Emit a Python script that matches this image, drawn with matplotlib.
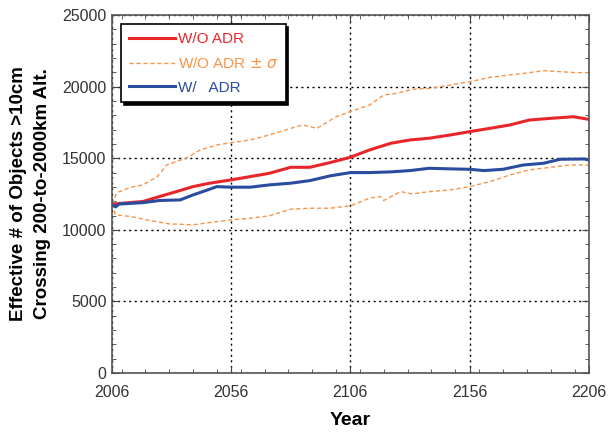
import numpy as np
import matplotlib
matplotlib.use("Agg")
import matplotlib.pyplot as plt
from matplotlib.ticker import MultipleLocator

plt.rcParams['font.family'] = ['Liberation Sans', 'DejaVu Sans']

# W/O ADR (mean)
red_years = [2006, 2019, 2026, 2033, 2040, 2047, 2056, 2064, 2072, 2081, 2089, 2097.5,
             2106, 2114, 2123, 2131, 2139, 2148, 2156, 2164.5, 2173, 2181, 2190, 2199.5, 2206]
red_vals = [11800, 11980, 12330, 12670, 13020, 13260, 13490, 13720, 13950, 14370, 14370, 14700,
            15070, 15580, 16050, 16280, 16400, 16630, 16860, 17090, 17330, 17670, 17790, 17900, 17720]

# W/ ADR
blue_years = [2006, 2007.5, 2009, 2019, 2026, 2034.6, 2040, 2047, 2050, 2056, 2064, 2072, 2081,
              2089, 2097.5, 2106, 2114, 2123, 2131, 2139, 2148, 2156, 2162, 2170, 2178.5,
              2187, 2194, 2204, 2206]
blue_vals = [11800, 11600, 11800, 11900, 12050, 12090, 12440, 12840, 13020, 12980, 12980, 13140,
             13260, 13440, 13770, 14000, 14000, 14050, 14140, 14300, 14260, 14230, 14140,
             14230, 14530, 14650, 14930, 14950, 14880]

# W/O ADR + sigma
up_years = [2006, 2008, 2014, 2019, 2025, 2029, 2037, 2043, 2050, 2056, 2064, 2072, 2081, 2086,
            2092, 2100, 2106, 2114, 2120, 2125.5, 2132, 2139, 2148, 2156, 2164.5, 2173, 2181,
            2187, 2194, 2201, 2206]
up_vals = [11800, 12600, 12980, 13140, 13720, 14540, 15000, 15580, 15930, 16090, 16280, 16630,
           17090, 17330, 17090, 17900, 18260, 18720, 19420, 19540, 19820, 19880, 20120, 20350,
           20650, 20820, 20980, 21120, 21050, 20980, 20980]

# W/O ADR - sigma
lo_years = [2006, 2007.4, 2014, 2022, 2030, 2040, 2047, 2056, 2064, 2072, 2081, 2089, 2097.5,
            2106, 2114, 2118.5, 2120, 2127, 2132, 2139, 2148, 2156, 2164.5, 2173, 2181, 2190,
            2198, 2206]
lo_vals = [11800, 11050, 10930, 10650, 10420, 10350, 10510, 10700, 10810, 10980, 11440, 11510,
           11510, 11680, 12210, 12330, 12050, 12670, 12510, 12670, 12790, 13020, 13370, 13840,
           14190, 14370, 14530, 14530]

red = '#e8262a'
orange = '#f7944a'
blue = '#2a4c9f'

fig = plt.figure(figsize=(6.14, 4.32), dpi=100)
ax = fig.add_axes([0.1824, 0.1366, 0.7766, 0.8284])

ax.plot(red_years, red_vals, color=red, lw=2.2, label='W/O ADR')
ax.plot(up_years, up_vals, color=orange, lw=1, ls=(0, (3, 2)),
        label=r'W/O ADR $\pm$ $\sigma$')
ax.plot(lo_years, lo_vals, color=orange, lw=1, ls=(0, (3, 2)))
ax.plot(blue_years, blue_vals, color=blue, lw=2.2, label='W/   ADR')

ax.set_xlim(2006, 2206)
ax.set_ylim(0, 25000)
ax.set_xticks([2006, 2056, 2106, 2156, 2206])
ax.xaxis.set_minor_locator(MultipleLocator(10))
ax.set_yticks([0, 5000, 10000, 15000, 20000, 25000])
ax.yaxis.set_minor_locator(MultipleLocator(1000))
ax.tick_params(which='both', direction='in', top=True, right=True, colors='#444444',
               labelcolor='#333333', labelsize=11.5)
ax.tick_params(which='major', length=5)
ax.tick_params(which='minor', length=3)
ax.tick_params(axis='x', pad=9)
ax.tick_params(axis='y', pad=4)
for s in ax.spines.values():
    s.set_color('#555555')
    s.set_linewidth(1.2)
ax.grid(True, which='major', color='black', ls=(0, (1.5, 2.5)), lw=1)

ax.set_xlabel('Year', fontsize=14, fontweight='bold', labelpad=8)
ax.set_ylabel('Effective # of Objects >10cm\nCrossing 200-to-2000km Alt.', fontsize=13.5,
              fontweight='bold', labelpad=8, linespacing=1.5)

leg = ax.legend(loc='upper left', fontsize=11, frameon=True, fancybox=False,
                shadow={'color': 'black', 'alpha': 1}, edgecolor='black', handlelength=3.0,
                borderaxespad=0.6, labelspacing=0.65, handletextpad=0.2, framealpha=1,
                borderpad=0.5)
leg.get_frame().set_linewidth(1.2)
for txt, c in zip(leg.get_texts(), [red, orange, blue]):
    txt.set_color(c)

fig.savefig('out.png', dpi=100)
